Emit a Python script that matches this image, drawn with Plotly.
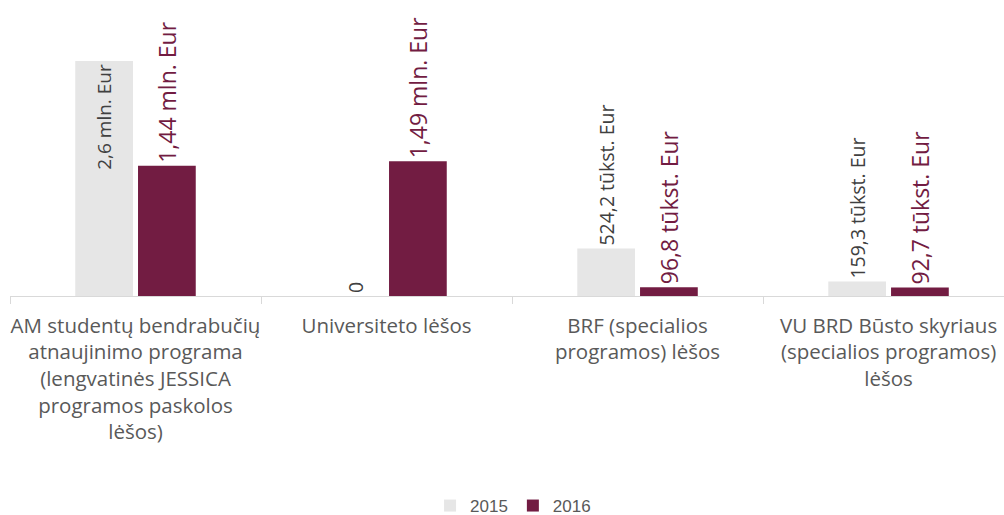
import plotly.graph_objects as go

# Funding sources (category axis), with line breaks for the tick labels
categories = [
    "AM studentų bendrabučių<br>atnaujinimo programa<br>(lengvatinės JESSICA<br>programos paskolos<br>lėšos)",
    "Universiteto lėšos",
    "BRF (specialios<br>programos) lėšos",
    "VU BRD Būsto skyriaus<br>(specialios programos)<br>lėšos",
]

# Amounts in Eur
values_2015 = [2600000, 0, 524200, 159300]
values_2016 = [1440000, 1490000, 96800, 92700]

labels_2015 = ["2,6 mln. Eur", "0", "524,2 tūkst. Eur", "159,3 tūkst. Eur"]
labels_2016 = ["1,44 mln. Eur", "1,49 mln. Eur", "96,8 tūkst. Eur", "92,7 tūkst. Eur"]

FONT = "Open Sans"
GREY_BAR = "#e6e6e6"
MAROON = "#721c42"
TEXT_GREY = "#404040"
AXIS_TEXT = "#595959"

fig = go.Figure()

fig.add_trace(go.Bar(
    name="2015",
    x=categories,
    y=values_2015,
    text=labels_2015,
    textposition=["inside", "outside", "outside", "outside"],
    insidetextanchor="end",
    textangle=-90,
    constraintext="none",
    cliponaxis=False,
    marker=dict(color=GREY_BAR, line=dict(width=0)),
    textfont=dict(family=FONT, size=19.5, color=TEXT_GREY),
    insidetextfont=dict(family=FONT, size=19, color=TEXT_GREY),
    outsidetextfont=dict(family=FONT, size=19.5, color=TEXT_GREY),
))

fig.add_trace(go.Bar(
    name="2016",
    x=categories,
    y=values_2016,
    text=labels_2016,
    textposition="outside",
    textangle=-90,
    constraintext="none",
    cliponaxis=False,
    marker=dict(color=MAROON, line=dict(width=0)),
    textfont=dict(family=FONT, size=23, color=MAROON),
    outsidetextfont=dict(family=FONT, size=23, color=MAROON),
))

fig.update_layout(
    width=1004,
    height=515,
    margin=dict(l=10, r=0, t=5, b=219),
    paper_bgcolor="white",
    plot_bgcolor="white",
    barmode="group",
    bargap=0.5,
    bargroupgap=0.08,
    showlegend=True,
    legend=dict(
        orientation="h",
        x=0.511,
        xanchor="center",
        xref="container",
        y=0.0175,
        yref="container",
        yanchor="middle",
        font=dict(family="Arial", size=17, color=AXIS_TEXT),
        itemwidth=30,
        traceorder="normal",
    ),
    xaxis=dict(
        type="category",
        range=[-0.5, 3.46],
        showline=True,
        linecolor="#d9d9d9",
        linewidth=1,
        ticks="outside",
        tickson="boundaries",
        ticklen=7,
        tickcolor="#d9d9d9",
        tickangle=0,
        ticklabelstandoff=11,
        tickfont=dict(family=FONT, size=20.5, color=AXIS_TEXT),
        showgrid=False,
        zeroline=False,
        automargin=False,
    ),
    yaxis=dict(
        range=[0, 2600000 * 291 / 235],
        visible=False,
        showgrid=False,
        zeroline=False,
    ),
)

fig.write_html("out.html")
